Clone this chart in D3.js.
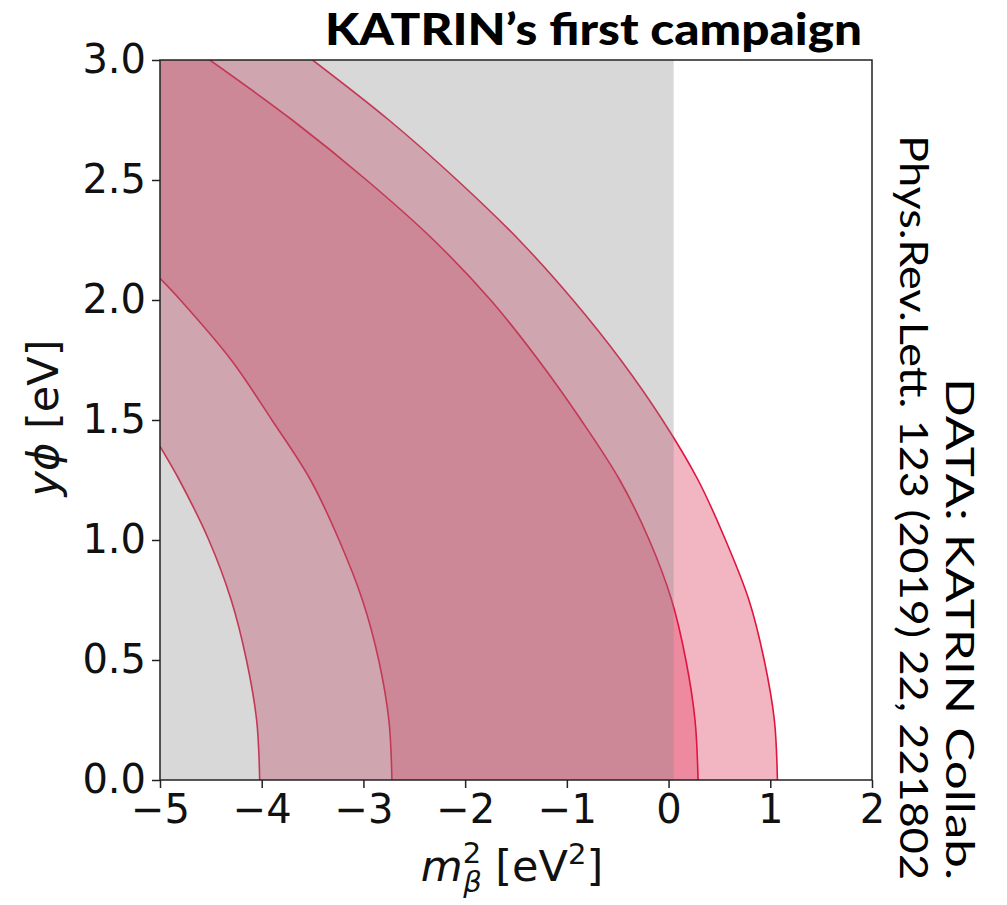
<!DOCTYPE html>
<html>
<head>
<meta charset="utf-8">
<script src="https://cdn.jsdelivr.net/npm/d3@7"></script>
<style>
body { margin: 0; background: #fff; }
</style>
</head>
<body>
<script>
// tick values
const xTicks = [-5, -4, -3, -2, -1, 0, 1, 2];
const yTicks = [0, 0.5, 1, 1.5, 2, 2.5, 3];

// right edge of the grey band (m^2 < 0 side)
const grayLimit = 0.05;

// contour boundaries, [m2, yphi]
const outerRight = [[1.07, 0], [1.04, 0.25], [0.94, 0.5], [0.79, 0.75], [0.56, 1.0], [0.29, 1.25],
  [-0.06, 1.5], [-0.47, 1.75], [-0.94, 2.0], [-1.47, 2.25], [-2.08, 2.5], [-2.75, 2.75], [-3.50, 3.0]];
const innerRight = [[0.29, 0], [0.26, 0.25], [0.17, 0.5], [0.03, 0.75], [-0.19, 1.0], [-0.48, 1.25],
  [-0.86, 1.5], [-1.28, 1.75], [-1.75, 2.0], [-2.31, 2.25], [-2.97, 2.5], [-3.70, 2.75], [-4.51, 3.0]];
const innerLeft = [[-2.72, 0], [-2.75, 0.25], [-2.85, 0.5], [-3.01, 0.75], [-3.24, 1.0], [-3.52, 1.25],
  [-3.90, 1.5], [-4.30, 1.75], [-4.80, 2.0], [-5.0, 2.09]];
const outerLeft = [[-4.02, 0], [-4.05, 0.25], [-4.15, 0.5], [-4.30, 0.75], [-4.52, 1.0], [-4.81, 1.25],
  [-5.0, 1.39]];

let width = 1007;
let height = 905;
let pLeft = 160, pRight = 872, pTop = 60, pBottom = 780;

let svg = d3.select('body').append('svg')
  .attr('width', width)
  .attr('height', height);

let x = d3.scaleLinear().domain([-5, 2]).range([pLeft, pRight]);
let y = d3.scaleLinear().domain([0, 3]).range([pBottom, pTop]);

svg.append('clipPath').attr('id', 'plot')
  .append('rect')
  .attr('x', pLeft).attr('y', pTop)
  .attr('width', pRight - pLeft).attr('height', pBottom - pTop);

let g = svg.append('g').attr('clip-path', 'url(#plot)');

let smooth = d3.line()
  .x(d => x(d[0]))
  .y(d => y(d[1]))
  .curve(d3.curveCatmullRom);

// closed region: right boundary (bottom to top), top-left corner, left boundary (top to bottom)
function region(rightCurve, leftCurve) {
  let down = leftCurve.slice().reverse();
  return smooth(rightCurve) + 'L' + x(-5) + ',' + y(3) +
    'L' + smooth(down).substring(1) + 'Z';
}

g.append('path')
  .attr('d', region(outerRight, outerLeft))
  .style('fill', '#f2b6c3');

g.append('path')
  .attr('d', region(innerRight, innerLeft))
  .style('fill', '#ee8a9f');

for (let c of [outerRight, innerRight, innerLeft, outerLeft]) {
  g.append('path')
    .attr('d', smooth(c))
    .style('fill', 'none')
    .style('stroke', '#e0153f')
    .style('stroke-width', 1.6);
}

// grey veil over the negative m^2 side
g.append('rect')
  .attr('x', x(-5))
  .attr('y', y(3))
  .attr('width', x(grayLimit) - x(-5))
  .attr('height', y(0) - y(3))
  .style('fill', 'rgb(133,133,133)')
  .style('fill-opacity', 0.32);

// frame
svg.append('rect')
  .attr('x', pLeft).attr('y', pTop)
  .attr('width', pRight - pLeft).attr('height', pBottom - pTop)
  .style('fill', 'none')
  .style('stroke', '#222')
  .style('stroke-width', 1.5);

let fmtX = d => (d < 0 ? '\u2212' + Math.abs(d) : '' + d);
let xAxis = svg.append('g')
  .attr('transform', 'translate(0,' + pBottom + ')')
  .call(d3.axisBottom(x).tickValues(xTicks).tickFormat(fmtX).tickSize(8).tickPadding(7));
let yAxis = svg.append('g')
  .attr('transform', 'translate(' + pLeft + ',0)')
  .call(d3.axisLeft(y).tickValues(yTicks).tickFormat(d3.format('.1f')).tickSize(8).tickPadding(6));

for (let a of [xAxis, yAxis]) {
  a.select('.domain').remove();
  a.selectAll('line').style('stroke', '#222').style('stroke-width', 1.5);
  a.selectAll('text')
    .style('font-family', 'DejaVu Sans')
    .style('font-size', '40px')
    .style('fill', '#111');
}

// x label: m^2_beta [eV^2]
let xl = svg.append('text')
  .attr('x', 512).attr('y', 881)
  .attr('text-anchor', 'middle')
  .style('font-family', 'DejaVu Sans')
  .style('font-size', '43px')
  .style('fill', '#111');
xl.append('tspan').text('m').style('font-style', 'italic');
xl.append('tspan').text('2').attr('dy', -18).style('font-size', '29px');
xl.append('tspan').text('\u03b2').attr('dx', -18).attr('dy', 29)
  .style('font-size', '29px').style('font-style', 'italic');
xl.append('tspan').text(' [eV').attr('dy', -11);
xl.append('tspan').text('2').attr('dy', -17).style('font-size', '29px');
xl.append('tspan').text(']').attr('dy', 17);

// y label
let yl = svg.append('text')
  .attr('transform', 'translate(58,418) rotate(-90)')
  .attr('text-anchor', 'middle')
  .style('font-family', 'DejaVu Sans')
  .style('font-size', '43px')
  .style('fill', '#111');
yl.append('tspan').text('y\u03d5').style('font-style', 'italic');
yl.append('tspan').text(' [eV]');

// title
svg.append('text')
  .attr('x', 862).attr('y', 45)
  .attr('text-anchor', 'end')
  .attr('textLength', 537)
  .attr('lengthAdjust', 'spacingAndGlyphs')
  .style('font-family', 'Lato')
  .style('font-weight', 900)
  .style('font-size', '43px')
  .style('fill', '#000')
  .text('KATRIN\u2019s first campaign');

// data credit, rotated
let credit = svg.append('g').attr('transform', 'translate(946,880) rotate(90)');
credit.append('text')
  .attr('x', -502).attr('y', 0)
  .attr('textLength', 502)
  .attr('lengthAdjust', 'spacingAndGlyphs')
  .style('font-family', 'Lato')
  .style('font-size', '38px')
  .style('fill', '#000')
  .text('DATA: KATRIN Collab.');
credit.append('text')
  .attr('x', -745).attr('y', 46)
  .attr('textLength', 745)
  .attr('lengthAdjust', 'spacingAndGlyphs')
  .style('font-family', 'Lato')
  .style('font-size', '38px')
  .style('fill', '#000')
  .text('Phys.Rev.Lett. 123 (2019) 22, 221802');
</script>
</body>
</html>
